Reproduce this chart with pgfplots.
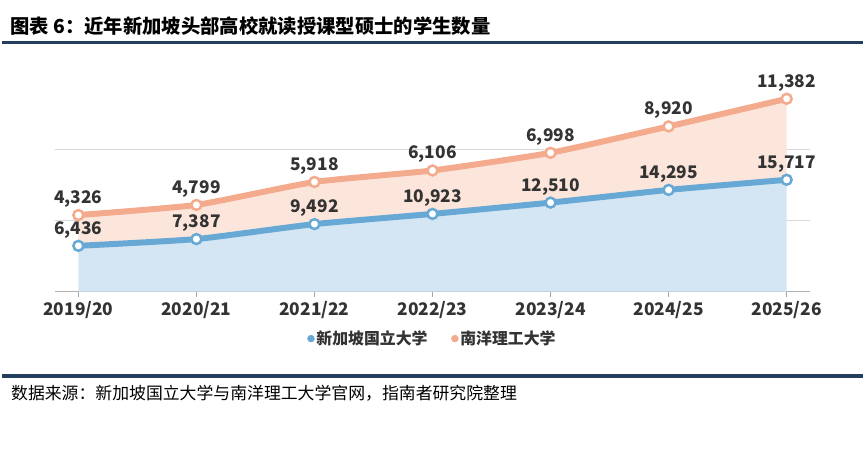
\documentclass[border=0pt]{standalone}
\usepackage{fontspec}
\setmainfont{Noto Sans CJK SC}
\usepackage{pgfplots}
\usepackage{pgfplotstable}
\pgfplotsset{compat=1.18}
\usepgfplotslibrary{fillbetween}
\definecolor{nusline}{HTML}{67A9D4}
\definecolor{ntuline}{HTML}{F4AA8C}
\definecolor{nusfill}{HTML}{D4E6F3}
\definecolor{ntufill}{HTML}{FCE6DC}
\definecolor{navy}{HTML}{243F5E}
\definecolor{textgray}{HTML}{333333}
\pgfplotstableread{
x nus ntu total
0 6436 4326 10762
1 7387 4799 12186
2 9492 5918 15410
3 10923 6106 17029
4 12510 6998 19508
5 14295 8920 23215
6 15717 11382 27099
}\data
\begin{document}
\begin{tikzpicture}[x=1bp,y=1bp]
\path (0,0) rectangle (865,452);
\node[anchor=west, inner sep=0pt, font=\bfseries\fontsize{19.5}{22}\selectfont] at (8,426) {图表 6：近年新加坡头部高校就读授课型硕士的学生数量};
\draw[navy, line width=3bp] (0,409) -- (865,409);
\draw[navy, line width=4bp] (0,74) -- (865,74);
\node[anchor=west, inner sep=0pt, font=\fontsize{17}{19}\selectfont] at (9,57) {数据来源：新加坡国立大学与南洋理工大学官网，指南者研究院整理};
\begin{axis}[
  at={(53bp,159bp)}, anchor=south west, scale only axis,
  width=759bp, height=214.5bp,
  xmin=-0.2, xmax=6.2, ymin=0, ymax=30000,
  clip=false,
  axis lines*=left,
  x axis line style={draw=black!30, -},
  y axis line style={draw=none},
  ytick={10000,20000}, yticklabels={}, ytick style={draw=none},
  scaled y ticks=false,
  ymajorgrids, grid style={draw=black!15, line width=0.8bp},
  xtick={0,...,6},
  xticklabels={2019/20,2020/21,2021/22,2022/23,2023/24,2024/25,2025/26},
  xtick style={draw=black!35, line width=0.8bp},
  tick align=outside, major tick length=5bp,
  xticklabel style={font=\bfseries\fontsize{17.5}{19}\selectfont, text=textgray, yshift=-1bp},
  /pgf/number format/1000 sep={,},
  /pgf/number format/assume math mode=true,
  legend style={at={(0.5,-0.22)}, anchor=center, draw=none, legend columns=2,
    font=\bfseries\fontsize{16}{18}\selectfont, text=textgray,
    /tikz/every even column/.append style={column sep=22bp}},
]
\addplot[draw=none, fill=nusfill, smooth, tension=0.3, forget plot] table[x=x,y=nus]{\data} \closedcycle;
\addplot[name path=tot, draw=none, smooth, tension=0.3, forget plot] table[x=x,y=total]{\data};
\addplot[name path=nusp, draw=none, smooth, tension=0.3, forget plot] table[x=x,y=nus]{\data};
\addplot[fill=ntufill, draw=none, forget plot] fill between[of=tot and nusp];
\addplot[ntuline, line width=6bp, smooth, tension=0.3, mark=*, mark size=5bp,
  mark options={fill=white, draw=ntuline, line width=2.5bp},
  point meta=explicit, nodes near coords,
  nodes near coords style={font=\bfseries\fontsize{17.5}{19}\selectfont, text=textgray, anchor=south, yshift=3bp},
  forget plot] table[x=x,y=total,meta=ntu]{\data};
\addplot[nusline, line width=6bp, smooth, tension=0.3, mark=*, mark size=5bp,
  mark options={fill=white, draw=nusline, line width=2.5bp},
  point meta=explicit, nodes near coords,
  nodes near coords style={font=\bfseries\fontsize{17.5}{19}\selectfont, text=textgray, anchor=south, yshift=3bp},
  forget plot] table[x=x,y=nus,meta=nus]{\data};
\addlegendimage{only marks, mark=*, mark size=3.5bp, color=nusline}
\addlegendentry{新加坡国立大学}
\addlegendimage{only marks, mark=*, mark size=3.5bp, color=ntuline}
\addlegendentry{南洋理工大学}
\end{axis}
\end{tikzpicture}
\end{document}
